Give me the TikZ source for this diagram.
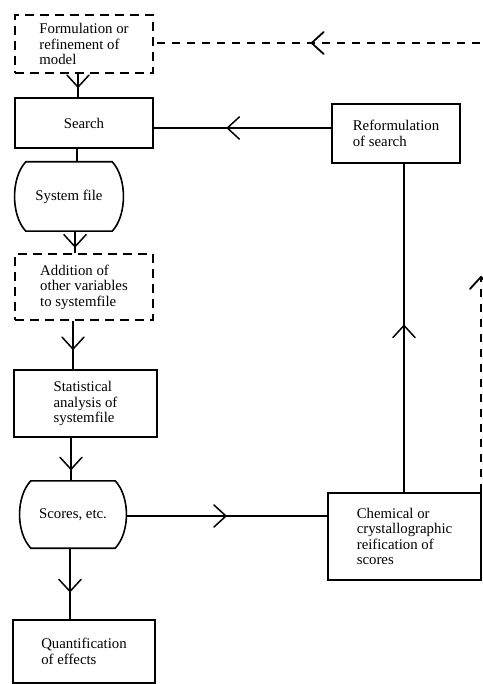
\documentclass[tikz,border=0pt]{standalone}
\usepackage{fontspec}
\setmainfont{Liberation Serif}
\usetikzlibrary{arrows.meta,decorations.markings}

\tikzset{
  stepbox/.style={draw, line width=1.6pt, align=left, inner sep=0pt},
  dashbox/.style={stepbox, dash pattern=on 9pt off 6pt},
  filebox/.style={align=left, inner sep=0pt},
  flow/.style={line width=1.5pt},
  feedback/.style={flow, line width=1.8pt, dash pattern=on 8pt off 7pt},
  midarrow/.style={postaction={decorate}, decoration={markings,
      mark=at position #1 with {\arrow{Straight Barb[length=12pt,width=22pt,round]}}}},
  tiparrow/.style={-{Straight Barb[length=12pt,width=22pt,round]}},
}

% outline of a file (flat top and bottom, bulging sides)
\newcommand{\drumoutline}[1]{%
  \draw[line width=1.6pt] ([xshift=11pt]#1.north west) -- ([xshift=-11pt]#1.north east)
    .. controls ([xshift=4pt,yshift=-16pt]#1.north east) and ([xshift=4pt,yshift=16pt]#1.south east)
    .. ([xshift=-11pt]#1.south east) -- ([xshift=11pt]#1.south west)
    .. controls ([xshift=-4pt,yshift=16pt]#1.south west) and ([xshift=-4pt,yshift=-16pt]#1.north west)
    .. ([xshift=11pt]#1.north west) -- cycle;}

\begin{document}
\begin{tikzpicture}[x=1pt, y=-1pt, every node/.style={font=\fontsize{14.8}{15.5}\selectfont}]
  \useasboundingbox (0,0) rectangle (482,684);

  % left column
  \node[dashbox, minimum width=138pt, minimum height=58pt] (formulation) at (84,44)
  {Formulation or\\ refinement of\\ model};

  \node[stepbox, minimum width=138pt, minimum height=50pt] (search) at (84,123)
  {Search};

  \node[filebox, minimum width=108pt, minimum height=69pt] (sysfile) at (69,196.5)
  {System file};
  \drumoutline{sysfile}

  \node[dashbox, minimum width=138pt, minimum height=66pt] (addition) at (84,287)
  {Addition of\\ other variables\\ to systemfile};

  \node[stepbox, minimum width=143pt, minimum height=67pt] (statistical) at (85.5,403.5)
  {Statistical\\ analysis of\\ systemfile};

  \node[filebox, minimum width=106pt, minimum height=67pt] (scores) at (73,514.5)
  {Scores, etc.};
  \drumoutline{scores}

  \node[stepbox, minimum width=142pt, minimum height=63pt] (quant) at (84,651.5)
  {Quantification\\ of effects};

  % right column
  \node[stepbox, minimum width=128pt, minimum height=59pt] (reform) at (396,133.5)
  {Reformulation\\ of search};

  \node[stepbox, minimum width=153pt, minimum height=87pt] (chem) at (404.5,536.5)
  {Chemical or\\ crystallographic\\ reification of\\ scores};

  % main flow
  \draw[flow, midarrow=0.6] (78,0 |- formulation.south) -- (78,0 |- search.north);
  \draw[flow] (77,0 |- search.south) -- (77,0 |- sysfile.north);
  \draw[flow, midarrow=0.74] (75,0 |- sysfile.south) -- (75,0 |- addition.north);
  \draw[flow, midarrow=0.6] (73,0 |- addition.south) -- (73,0 |- statistical.north);
  \draw[flow, midarrow=0.75] (71,0 |- statistical.south) -- (71,0 |- scores.north);
  \draw[flow, midarrow=0.62] (70,0 |- scores.south) -- (70,0 |- quant.north);

  % side loop
  \draw[flow, midarrow=0.5] (scores.east |- 0,516) -- (chem.west |- 0,516);
  \draw[flow, midarrow=0.51] (404,0 |- chem.north) -- (404,0 |- reform.south);
  \draw[flow, midarrow=0.59] (reform.west |- 0,128) -- (search.east |- 0,128);

  % feedback to the model
  \coordinate (looptop) at (481,276);
  \coordinate (loopback) at (495,43);
  \draw[feedback, tiparrow] (looptop |- chem.north) -- (looptop);
  \draw[feedback, midarrow=0.54] (loopback) -- (formulation.east |- loopback);
\end{tikzpicture}
\end{document}
